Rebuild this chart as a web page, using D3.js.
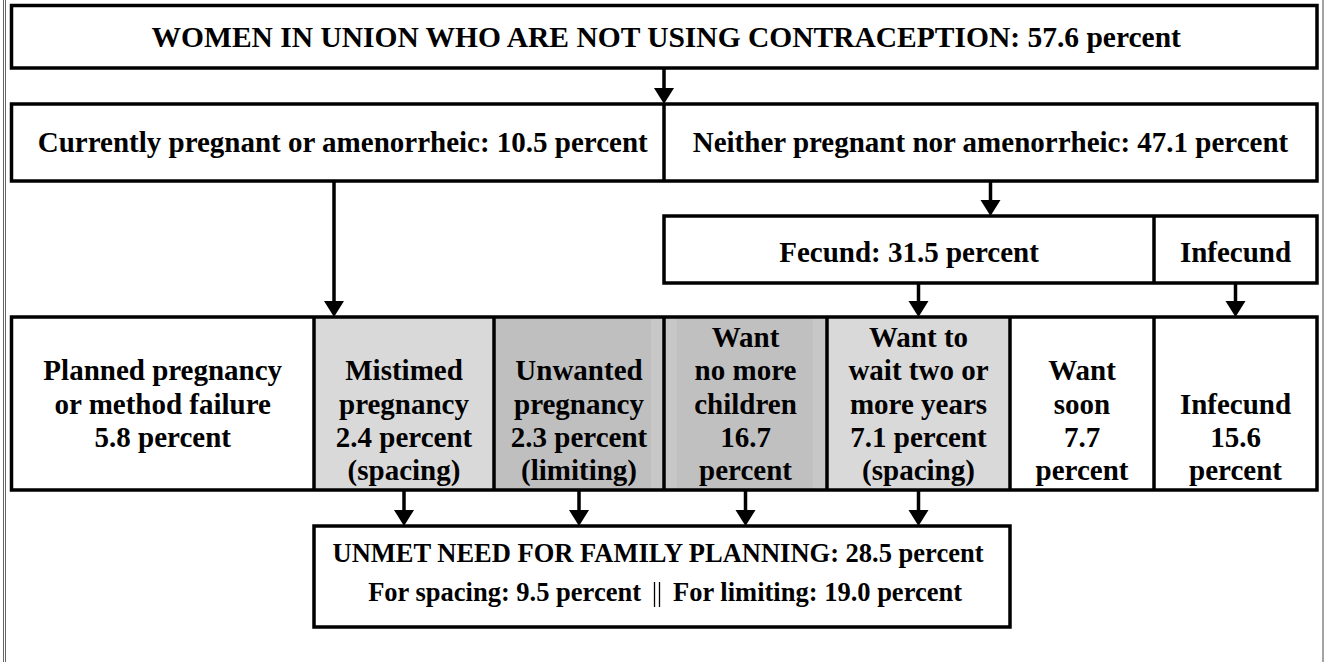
<!DOCTYPE html>
<html>
<head>
<meta charset="utf-8">
<script src="https://cdn.jsdelivr.net/npm/d3@7"></script>
<style>
  body { margin: 0; background: #fff; }
  text { font-family: "Liberation Serif", "Times New Roman", serif; font-weight: bold; fill: #000; }
</style>
</head>
<body>
<div id="chart"></div>
<script>
// Data
const topLabel = "WOMEN IN UNION WHO ARE NOT USING CONTRACEPTION";
const topValue = 57.6;
const statusLabels = ["Currently pregnant or amenorrheic", "Neither pregnant nor amenorrheic"];
const statusValues = [10.5, 47.1];
const fecundLabels = ["Fecund", "Infecund"];
const fecundValues = [31.5, null];
const outcomeNames = ["planned", "mistimed", "unwanted", "nomore", "wait", "soon", "infecund"];
const outcomeValues = [5.8, 2.4, 2.3, 16.7, 7.1, 7.7, 15.6];
const unmetLabel = "UNMET NEED FOR FAMILY PLANNING";
const unmetTotal = 28.5;
const unmetSpacing = 9.5;
const unmetLimiting = 19.0;

const fmt = d3.format(".1f");

// text lines for the bottom row, built from the values
function outcomeLines(name, v) {
    const p = fmt(v);
    switch (name) {
        case "planned": return ["Planned pregnancy", "or method failure", `${p} percent`];
        case "mistimed": return ["Mistimed", "pregnancy", `${p} percent`, "(spacing)"];
        case "unwanted": return ["Unwanted", "pregnancy", `${p} percent`, "(limiting)"];
        case "nomore": return ["Want", "no more", "children", p, "percent"];
        case "wait": return ["Want to", "wait two or", "more years", `${p} percent`, "(spacing)"];
        case "soon": return ["Want", "soon", p, "percent"];
        case "infecund": return ["Infecund", p, "percent"];
    }
}

// Layout
const width = 1325, height = 662;
const sw = 3.5;
const left = 11.5, right = 1317;
const colEdges = [left, 314, 494, 664, 827, 1010, 1154, right];
const colFill = ["#ffffff", "#d9d9d9", "#bfbfbf", "#c0c0c0", "#d9d9d9", "#ffffff", "#ffffff"];
const firstSlot = [1, 1, 1, 0, 0, 1, 2];
const rows = {
    top: [5.5, 68],
    status: [104, 181],
    fecund: [216, 283],
    outcome: [317, 490],
    unmet: [526, 627]
};
const unmetX = [314, 1010];
const lineY = d3.scaleLinear().domain([0, 4]).range([337, 470]);

const svg = d3.select("#chart").append("svg")
    .attr("width", width)
    .attr("height", height);

// page frame
[3.5, 5.5].forEach(x => {
    svg.append("line").attr("x1", x).attr("x2", x).attr("y1", 0).attr("y2", height)
        .attr("stroke", "#666").attr("stroke-width", 1);
});
svg.append("line").attr("x1", 1323).attr("x2", 1323).attr("y1", 0).attr("y2", height)
    .attr("stroke", "#666").attr("stroke-width", 1.2);

function box(x0, x1, y0, y1, fill) {
    svg.append("rect")
        .attr("x", x0).attr("y", y0)
        .attr("width", x1 - x0).attr("height", y1 - y0)
        .attr("fill", fill || "none")
        .attr("stroke", "#000")
        .attr("stroke-width", sw);
}

function vline(x, y0, y1) {
    svg.append("line")
        .attr("x1", x).attr("x2", x).attr("y1", y0).attr("y2", y1)
        .attr("stroke", "#000").attr("stroke-width", sw);
}

function arrow(x, y0, y1) {
    const head = 16, hw = 10;
    svg.append("line")
        .attr("x1", x).attr("x2", x).attr("y1", y0).attr("y2", y1 - head + 1)
        .attr("stroke", "#000").attr("stroke-width", sw);
    svg.append("path")
        .attr("d", `M${x - hw},${y1 - head} L${x + hw},${y1 - head} L${x},${y1} Z`)
        .attr("fill", "#000");
}

function label(x, y, str, size) {
    svg.append("text")
        .attr("x", x).attr("y", y)
        .attr("dy", "0.35em")
        .attr("text-anchor", "middle")
        .style("font-size", size + "px")
        .text(str);
}

const mid = a => (a[0] + a[1]) / 2;

// Top box
box(left, right, rows.top[0], rows.top[1], "#fff");
label(mid([left, right]) + 2, mid(rows.top), `${topLabel}: ${fmt(topValue)} percent`, 29.5);

// Status row
box(left, right, rows.status[0], rows.status[1], "#fff");
vline(colEdges[3], rows.status[0], rows.status[1]);
label(mid([left, colEdges[3]]) + 5, mid(rows.status) - 1, `${statusLabels[0]}: ${fmt(statusValues[0])} percent`, 29);
label(mid([colEdges[3], right]), mid(rows.status) - 1, `${statusLabels[1]}: ${fmt(statusValues[1])} percent`, 29);
arrow(colEdges[3], rows.top[1], rows.status[0]);

// Fecund row
box(colEdges[3], right, rows.fecund[0], rows.fecund[1], "#fff");
vline(colEdges[6], rows.fecund[0], rows.fecund[1]);
label(mid([colEdges[3], colEdges[6]]), mid(rows.fecund) + 2, `${fecundLabels[0]}: ${fmt(fecundValues[0])} percent`, 29);
label(mid([colEdges[6], right]), mid(rows.fecund) + 2, fecundLabels[1], 29);
arrow(mid([colEdges[3], right]), rows.status[1], rows.fecund[0]);

// Outcome row
outcomeNames.forEach((name, i) => {
    const x0 = colEdges[i], x1 = colEdges[i + 1];
    svg.append("rect")
        .attr("x", x0).attr("y", rows.outcome[0])
        .attr("width", x1 - x0).attr("height", rows.outcome[1] - rows.outcome[0])
        .attr("fill", colFill[i]);
});
// faint lighter strips next to the darker dividers, as in the scanned original
[[651, 664], [664, 677], [813, 827]].forEach(s => {
    svg.append("rect")
        .attr("x", s[0]).attr("y", rows.outcome[0])
        .attr("width", s[1] - s[0]).attr("height", rows.outcome[1] - rows.outcome[0])
        .attr("fill", "#c7c7c7");
});
outcomeNames.forEach((name, i) => {
    const x0 = colEdges[i], x1 = colEdges[i + 1];
    outcomeLines(name, outcomeValues[i]).forEach((t, j) => {
        label(mid([x0, x1]), lineY(firstSlot[i] + j), t, 29);
    });
});
box(left, right, rows.outcome[0], rows.outcome[1]);
colEdges.slice(1, -1).forEach(x => vline(x, rows.outcome[0], rows.outcome[1]));

arrow(334, rows.status[1], rows.outcome[0]);
arrow(mid([colEdges[4], colEdges[5]]), rows.fecund[1], rows.outcome[0]);
arrow(mid([colEdges[6], colEdges[7]]), rows.fecund[1], rows.outcome[0]);

// Unmet need box
box(unmetX[0], unmetX[1], rows.unmet[0], rows.unmet[1], "#fff");
[1, 2, 3, 4].forEach(i => arrow(mid([colEdges[i], colEdges[i + 1]]), rows.outcome[1], rows.unmet[0]));
label(mid(unmetX) - 4, 553, `${unmetLabel}: ${fmt(unmetTotal)} percent`, 26.5);

const sepX = 657;
svg.append("text")
    .attr("x", sepX - 16).attr("y", 592).attr("dy", "0.35em")
    .attr("text-anchor", "end")
    .style("font-size", "26.5px")
    .text(`For spacing: ${fmt(unmetSpacing)} percent`);
svg.append("text")
    .attr("x", sepX + 16).attr("y", 592).attr("dy", "0.35em")
    .attr("text-anchor", "start")
    .style("font-size", "26.5px")
    .text(`For limiting: ${fmt(unmetLimiting)} percent`);
[-2.5, 2.5].forEach(d => {
    svg.append("line")
        .attr("x1", sepX + d).attr("x2", sepX + d)
        .attr("y1", 582).attr("y2", 607)
        .attr("stroke", "#000").attr("stroke-width", 1.3);
});
</script>
</body>
</html>
